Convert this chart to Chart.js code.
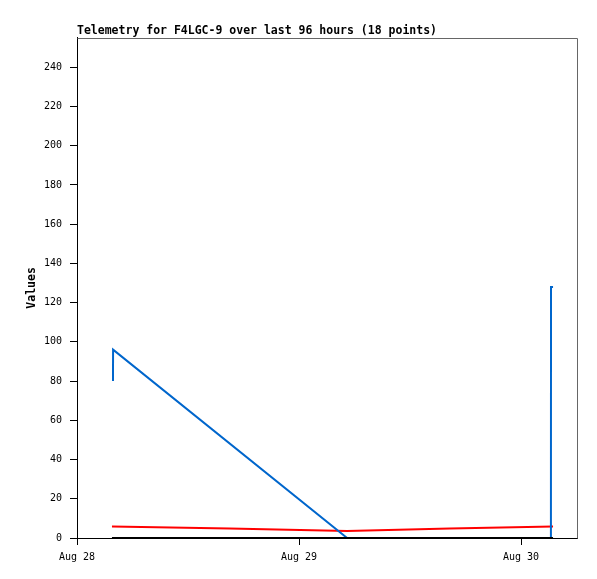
<!DOCTYPE html>
<html>
<head>
<meta charset="utf-8">
<script src="https://cdn.jsdelivr.net/npm/chart.js@4"></script>
<style>
  html, body { margin: 0; padding: 0; background: #fff; }
  #wrap { width: 597px; height: 579px; }
</style>
</head>
<body>
<div id="wrap"><canvas id="telemetry-chart" width="597" height="579"></canvas></div>
<script>
// hours since Aug 28 00:00
var xTickHours = [0, 24, 48];
var xTickLabels = ["Aug 28", "Aug 29", "Aug 30"];
var yTickValues = [0, 20, 40, 60, 80, 100, 120, 140, 160, 180, 200, 220, 240];

var blackHours = [3.78, 29.2, 51.46];
var blackValues = [0, 0, 0];

var blueHours = [3.89, 3.9, 29.2, 40, 51.23, 51.24, 51.46];
var blueValues = [80, 96, 0, 0, 0, 128, 128];

var redHours = [3.78, 16.5, 29.2, 40.3, 51.46];
var redValues = [5.9, 4.8, 3.6, 4.8, 5.9];

function toPoints(xs, ys) {
  return xs.map(function (x, i) { return { x: x, y: ys[i] } })
}

var monoFont = "'DejaVu Sans Mono', 'Liberation Mono', monospace"

// gray frame on the top and right side of the plot
var framePlugin = {
  id: "frame",
  afterDraw: function (chart) {
    var a = chart.chartArea
    var ctx = chart.ctx
    ctx.save()
    ctx.strokeStyle = "#666"
    ctx.lineWidth = 1
    ctx.beginPath()
    ctx.moveTo(Math.round(a.left) + 0.5, Math.round(a.top) + 0.5)
    ctx.lineTo(Math.round(a.right) + 0.5, Math.round(a.top) + 0.5)
    ctx.lineTo(Math.round(a.right) + 0.5, Math.round(a.bottom) + 0.5)
    ctx.stroke()
    ctx.restore()
  }
}

new Chart("telemetry-chart", {
  type: "line",
  data: {
    datasets: [
      { data: toPoints(blackHours, blackValues), borderColor: "#000", borderWidth: 2 },
      { data: toPoints(blueHours, blueValues), borderColor: "#0066cc", borderWidth: 2 },
      { data: toPoints(redHours, redValues), borderColor: "#ff0000", borderWidth: 2 }
    ]
  },
  options: {
    responsive: false,
    animation: false,
    devicePixelRatio: 1,
    layout: { padding: { left: 0, right: 20, top: 0, bottom: 0 } },
    elements: {
      point: { radius: 0 },
      line: { tension: 0, fill: false, borderCapStyle: "butt" }
    },
    datasets: { line: { clip: 4 } },
    plugins: {
      legend: { display: false },
      tooltip: { enabled: false },
      title: {
        display: true,
        text: "Telemetry for F4LGC-9 over last 96 hours (18 points)",
        align: "start",
        fullSize: false,
        color: "#000",
        font: { family: monoFont, size: 11.5, weight: "bold" },
        padding: { top: 24, bottom: 0 }
      }
    },
    scales: {
      x: {
        type: "linear",
        min: 0,
        max: 54.05,
        afterBuildTicks: function (scale) {
          scale.ticks = xTickHours.map(function (v) { return { value: v } })
        },
        afterFit: function (scale) { scale.height = 41 },
        ticks: {
          color: "#000",
          font: { family: monoFont, size: 10 },
          padding: 6,
          maxRotation: 0,
          callback: function (value) {
            var i = xTickHours.indexOf(value)
            return i >= 0 ? xTickLabels[i] : ""
          }
        },
        grid: { drawOnChartArea: false, drawTicks: true, tickLength: 7, color: "#000" },
        border: { display: true, color: "#000", width: 1 }
      },
      y: {
        min: 0,
        max: 255,
        afterBuildTicks: function (scale) {
          scale.ticks = yTickValues.map(function (v) { return { value: v } })
        },
        afterFit: function (scale) { scale.width = 77 },
        title: {
          display: true,
          text: "Values",
          color: "#000",
          font: { family: monoFont, size: 11.5, weight: "bold" },
          padding: { top: 25, bottom: 0 }
        },
        ticks: {
          color: "#000",
          font: { family: monoFont, size: 10 },
          padding: 8
        },
        grid: { drawOnChartArea: false, drawTicks: true, tickLength: 7, color: "#000" },
        border: { display: true, color: "#000", width: 1 }
      }
    }
  },
  plugins: [framePlugin]
});
</script>
</body>
</html>
